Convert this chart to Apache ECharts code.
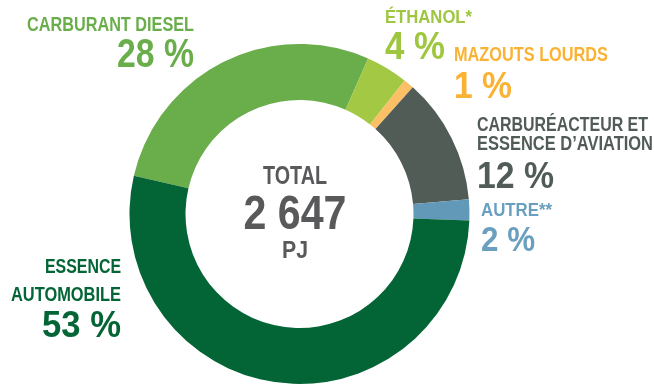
<!DOCTYPE html>
<html>
<head>
<meta charset="utf-8">
<script src="https://cdn.jsdelivr.net/npm/echarts@6/dist/echarts.min.js"></script>
<style>
  html, body { margin: 0; padding: 0; background: #ffffff; }
  #chart { width: 654px; height: 385px; }
</style>
</head>
<body>
<div id="chart"></div>
<script>
// Consommation d'énergie du transport, par carburant (%)
const categories = [
  'CARBURANT DIESEL',
  'ÉTHANOL*',
  'MAZOUTS LOURDS',
  'CARBURÉACTEUR ET\nESSENCE D’AVIATION',
  'AUTRE**',
  'ESSENCE\nAUTOMOBILE'
];
const shares = [28, 4, 1, 12, 2, 53];
const sliceColors = ['#6aad4b', '#a3c944', '#fbbf66', '#515c57', '#6399b8', '#036535'];
const labelColors = ['#6aae4c', '#9ec63f', '#f9b233', '#515c57', '#6a9fbf', '#036535'];
const totalLabel = 'TOTAL';
const totalValue = 2647;
const totalUnit = 'PJ';

const FONT = '"Liberation Sans", Arial, sans-serif';
const GREY = '#58595b';

// Label blocks: anchor x, alignment, centre y of each name line, size and column width of each line
const labelLayout = [
  { x: 194, align: 'right', ny: [24.5], ns: 21, nw: [167], vy: 55.5, vs: 40, vw: 77 },
  { x: 385, align: 'left', ny: [17.5], ns: 18, nw: [87], vy: 47, vs: 39, vw: 60 },
  { x: 454, align: 'left', ny: [55], ns: 20.5, nw: [154], vy: 86.5, vs: 37.5, vw: 58 },
  { x: 477, align: 'left', ny: [124.5, 144], ns: 21, nw: [171, 176], vy: 176.5, vs: 37.5, vw: 77 },
  { x: 481, align: 'left', ny: [210.5], ns: 18, nw: [71], vy: 240.5, vs: 35, vw: 54 },
  { x: 121, align: 'right', ny: [267.5, 295], ns: 19.5, nw: [76, 110], vy: 325.5, vs: 37.5, vw: 79 }
];

// condensed lettering: regular bold face squeezed horizontally to the column width
const measureCtx = document.createElement('canvas').getContext('2d');
function squeezedText(str, x, y, size, width, align, color) {
  const font = 'bold ' + size + 'px ' + FONT;
  measureCtx.font = font;
  const w = measureCtx.measureText(str).width;
  return {
    type: 'text',
    x: x,
    y: y + size * 0.02,
    scaleX: width / w,
    silent: true,
    style: { text: str, font: font, fill: color, align: align, verticalAlign: 'middle' }
  };
}

function formatThousands(n) {
  return String(n).replace(/\B(?=(\d{3})+(?!\d))/g, ' ');
}

const graphics = [];
categories.forEach((name, i) => {
  const L = labelLayout[i];
  name.split('\n').forEach((line, k) => {
    graphics.push(squeezedText(line, L.x, L.ny[k], L.ns, L.nw[k], L.align, labelColors[i]));
  });
  graphics.push(squeezedText(shares[i] + ' %', L.x, L.vy, L.vs, L.vw, L.align, labelColors[i]));
});
graphics.push(squeezedText(totalLabel, 295, 177, 25, 64, 'center', GREY));
graphics.push(squeezedText(formatThousands(totalValue), 295, 214.5, 49, 103, 'center', GREY));
graphics.push(squeezedText(totalUnit, 295, 251.5, 23.5, 26, 'center', GREY));

const chart = echarts.init(document.getElementById('chart'), null, { renderer: 'canvas' });
chart.setOption({
  animation: false,
  backgroundColor: '#ffffff',
  series: [{
    type: 'pie',
    center: [299.5, 214],
    radius: [114, 170],
    startAngle: 167,
    clockwise: true,
    itemStyle: { borderWidth: 0 },
    emphasis: { disabled: true },
    label: { show: false },
    labelLine: { show: false },
    data: categories.map((name, i) => ({
      name: name,
      value: shares[i],
      itemStyle: { color: sliceColors[i] }
    }))
  }],
  graphic: graphics
});
</script>
</body>
</html>
